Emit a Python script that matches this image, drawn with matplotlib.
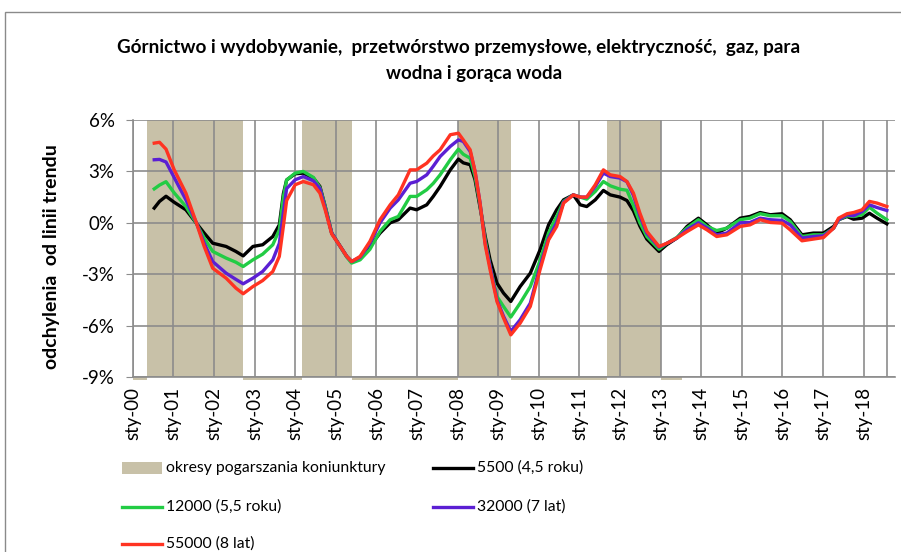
import matplotlib
matplotlib.use("Agg")
import matplotlib.pyplot as plt
from matplotlib.patches import Rectangle
from matplotlib.lines import Line2D

plt.rcParams['font.family'] = ['Lato', 'DejaVu Sans']

# Decimal years of the read-off points
years = [2000.53, 2000.66, 2000.82, 2001.02, 2001.31, 2001.56, 2001.76, 2001.97,
         2002.30, 2002.54, 2002.72, 2002.96, 2003.20, 2003.45, 2003.61, 2003.71,
         2003.79, 2004.00, 2004.20, 2004.45, 2004.61, 2004.74, 2004.90, 2005.06,
         2005.27, 2005.39, 2005.60, 2005.84, 2006.09, 2006.34, 2006.54, 2006.83,
         2006.99, 2007.24, 2007.40, 2007.57, 2007.82, 2008.02, 2008.14, 2008.31,
         2008.43, 2008.55, 2008.68, 2008.80, 2008.97, 2009.13, 2009.31, 2009.54,
         2009.79, 2010.03, 2010.24, 2010.44, 2010.61, 2010.85, 2011.02, 2011.18,
         2011.39, 2011.59, 2011.76, 2012.00, 2012.17, 2012.33, 2012.49, 2012.66,
         2012.96, 2013.15, 2013.40, 2013.65, 2013.93, 2014.14, 2014.38, 2014.63,
         2014.96, 2015.20, 2015.45, 2015.70, 2015.99, 2016.19, 2016.48, 2016.76,
         2017.01, 2017.26, 2017.38, 2017.59, 2017.75, 2017.96, 2018.14, 2018.33,
         2018.57]

s5500 = [0.86, 1.25, 1.55, 1.20, 0.76, 0.00, -0.60, -1.19,
         -1.38, -1.67, -1.93, -1.38, -1.28, -0.80, -0.12, 1.70,
         2.50, 2.86, 2.90, 2.61, 2.12, 0.95, -0.60, -1.19,
         -1.96, -2.26, -2.06, -1.38, -0.60, 0.00, 0.18, 0.86,
         0.76, 1.05, 1.54, 2.12, 3.09, 3.72, 3.50, 3.39,
         2.51, 0.95, -0.80, -2.16, -3.52, -4.10, -4.59, -3.72,
         -2.94, -1.58, -0.12, 0.76, 1.34, 1.63, 1.05, 0.95,
         1.34, 1.89, 1.63, 1.50, 1.30, 0.70, -0.20, -0.95,
         -1.67, -1.28, -0.89, -0.21, 0.27, -0.12, -0.60, -0.31,
         0.27, 0.37, 0.60, 0.47, 0.53, 0.18, -0.70, -0.60,
         -0.60, -0.21, 0.18, 0.37, 0.21, 0.27, 0.56, 0.27,
         -0.06]

s12000 = [1.98, 2.20, 2.40, 1.75, 0.95, 0.00, -0.89, -1.67,
          -2.06, -2.30, -2.55, -2.16, -1.83, -1.28, -0.41, 1.50,
          2.50, 2.90, 3.00, 2.65, 2.05, 0.95, -0.60, -1.20,
          -2.00, -2.35, -2.16, -1.55, -0.50, 0.18, 0.37, 1.54,
          1.54, 1.93, 2.30, 2.80, 3.68, 4.30, 4.00, 3.77,
          2.70, 1.10, -1.00, -2.55, -4.30, -4.88, -5.50, -4.69,
          -3.72, -2.20, -0.60, 0.37, 1.25, 1.63, 1.50, 1.38,
          1.83, 2.41, 2.16, 1.96, 1.90, 1.00, 0.00, -0.80,
          -1.54, -1.20, -0.85, -0.30, 0.18, -0.21, -0.45, -0.31,
          0.18, 0.27, 0.53, 0.41, 0.41, 0.08, -0.80, -0.70,
          -0.70, -0.31, 0.18, 0.41, 0.37, 0.47, 0.91, 0.56,
          0.18]

s32000 = [3.68, 3.70, 3.55, 2.65, 1.34, 0.05, -1.19, -2.26,
          -2.94, -3.30, -3.56, -3.23, -2.84, -2.16, -1.20, 0.60,
          2.00, 2.51, 2.70, 2.45, 2.00, 0.85, -0.60, -1.20,
          -1.96, -2.26, -2.00, -1.20, 0.00, 0.86, 1.34, 2.31,
          2.41, 2.80, 3.30, 3.87, 4.46, 4.84, 4.75, 4.16,
          3.00, 1.20, -1.20, -2.55, -4.50, -5.45, -6.34, -5.66,
          -4.69, -2.55, -0.90, 0.00, 1.20, 1.63, 1.50, 1.50,
          2.12, 2.90, 2.70, 2.61, 2.40, 1.60, 0.40, -0.60,
          -1.42, -1.20, -0.89, -0.40, 0.00, -0.30, -0.70, -0.60,
          0.00, 0.02, 0.27, 0.18, 0.14, -0.12, -0.89, -0.80,
          -0.76, -0.31, 0.18, 0.47, 0.41, 0.66, 1.05, 0.89,
          0.72]

s55000 = [4.65, 4.70, 4.30, 3.10, 1.73, 0.05, -1.38, -2.65,
          -3.23, -3.81, -4.14, -3.72, -3.37, -2.84, -1.96, -0.20,
          1.30, 2.22, 2.41, 2.22, 1.73, 0.75, -0.65, -1.20,
          -1.96, -2.26, -1.96, -1.09, 0.18, 1.05, 1.63, 3.09,
          3.09, 3.48, 3.90, 4.26, 5.14, 5.23, 4.84, 4.26,
          3.00, 1.20, -1.30, -2.74, -4.60, -5.55, -6.54, -5.86,
          -4.88, -2.74, -1.00, -0.21, 1.15, 1.63, 1.50, 1.50,
          2.22, 3.09, 2.80, 2.70, 2.41, 1.73, 0.56, -0.50,
          -1.38, -1.20, -0.89, -0.51, -0.12, -0.41, -0.80, -0.70,
          -0.21, -0.12, 0.18, 0.02, -0.02, -0.41, -1.05, -0.95,
          -0.86, -0.31, 0.27, 0.53, 0.60, 0.76, 1.25, 1.15,
          0.95]

# Periods of worsening business conditions (start, end)
slowdowns = [(2000.34, 2002.71), (2004.18, 2005.39), (2008.02, 2009.32), (2011.69, 2013.00)]
strip_end = 2013.53

tick_years = list(range(2000, 2019))
tick_labels = ['sty-%02d' % (y % 100) for y in tick_years]

series = [
    (s5500, '5500 (4,5 roku)', '#000000'),
    (s12000, '12000 (5,5 roku)', '#22CC44'),
    (s32000, '32000 (7 lat)', '#5B1FD3'),
    (s55000, '55000 (8 lat)', '#FF3322'),
]
shade = '#C8C1A8'
grid_col = '#8C8C8C'
lw = 2.4

fig = plt.figure(figsize=(9.01, 5.52), dpi=100)
ax = fig.add_axes([0.1473, 0.317, 0.846, 0.4656])

for a, b in slowdowns:
    ax.axvspan(a, b, color=shade, lw=0, zorder=1)
edges = [2000.0] + [v for s in slowdowns for v in s] + [strip_end]
for a, b in zip(edges[0::2], edges[1::2]):
    ax.fill_between([a, b], -9.2, -9, color=shade, lw=0, clip_on=False, zorder=1)

for vals, label, col in series:
    ax.plot(years, vals, color=col, lw=lw, label=label, zorder=3)

ax.set_xlim(2000, 2018.77)
ax.set_ylim(-9, 6)
ax.set_yticks([-9, -6, -3, 0, 3, 6])
ax.set_yticklabels(['%d%%' % v for v in [-9, -6, -3, 0, 3, 6]])
ax.set_xticks(tick_years)
ax.set_xticklabels(tick_labels, rotation=90)
ax.set_axisbelow('line')
ax.grid(True, color=grid_col, lw=1.2)
ax.axvline(2018.57, color=grid_col, lw=1.2, zorder=1.5)
ax.tick_params(axis='y', length=5, color=grid_col, pad=8, labelsize=13.5)
ax.tick_params(axis='x', length=0, pad=7, labelsize=13.5)
for side in ['top', 'right']:
    ax.spines[side].set_visible(False)
for side in ['left', 'bottom']:
    ax.spines[side].set_color(grid_col)
    ax.spines[side].set_linewidth(1.2)

fig.text(0.5094, 1 - 47 / 552,
         'Górnictwo i wydobywanie,  przetwórstwo przemysłowe, elektryczność,  gaz, para',
         ha='center', va='center', weight='bold', size=13.6)
fig.text(0.526, 1 - 73 / 552, 'wodna i gorąca woda',
         ha='center', va='center', weight='bold', size=13.4)
fig.text(52 / 901, 1 - 257 / 552, 'odchylenia  od linii trendu', rotation=90,
         ha='center', va='center', weight='bold', size=14)

# Legend, placed entry by entry in figure pixels
def px(x, y):
    return x / 901, 1 - y / 552

legend_items = [
    ('patch', shade, 'okresy pogarszania koniunktury', 122, 468),
    ('line', '#000000', '5500 (4,5 roku)', 433, 468),
    ('line', '#22CC44', '12000 (5,5 roku)', 122, 507),
    ('line', '#5B1FD3', '32000 (7 lat)', 433, 507),
    ('line', '#FF3322', '55000 (8 lat)', 122, 544),
]
for kind, col, text, x, y in legend_items:
    if kind == 'patch':
        x0, y0 = px(x, y + 6)
        fig.patches.append(Rectangle((x0, y0), 40 / 901, 12 / 552, transform=fig.transFigure,
                                     color=col, lw=0))
    else:
        xa, ya = px(x, y)
        xb, _ = px(x + 40, y)
        fig.lines.append(Line2D([xa, xb], [ya, ya], transform=fig.transFigure, color=col, lw=lw))
    tx, ty = px(x + 44, y)
    fig.text(tx, ty, text, ha='left', va='center', size=11.3)

fig.patches.append(Rectangle((5 / 901, -0.05), 1.0, 1 - 12 / 552 + 0.05, transform=fig.transFigure,
                             fill=False, ec='#8a8a8a', lw=1))

fig.savefig('out.png', dpi=100)
